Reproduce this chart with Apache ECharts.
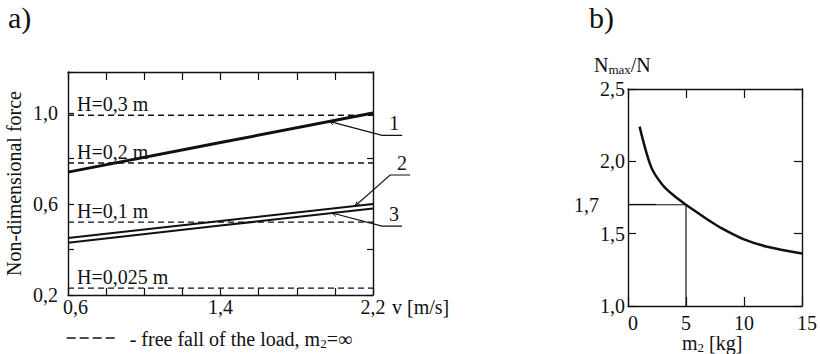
<!DOCTYPE html>
<html>
<head>
<meta charset="utf-8">
<script src="https://cdn.jsdelivr.net/npm/echarts@6/dist/echarts.min.js"></script>
<style>
  html, body { margin: 0; padding: 0; background: #fff; }
  #chart { width: 820px; height: 354px; }
</style>
</head>
<body>
<div id="chart"></div>
<script>
// ---- panel a): impact force against velocity ----
const velocity = [0.6, 1.4, 2.2];                 // v [m/s]
const force1 = [0.74, 0.87, 1.0];
const force2 = [0.45, 0.525, 0.60];
const force3 = [0.43, 0.505, 0.58];
const curveNames = ['1', '2', '3'];
const dropHeights = ['H=0,3 m', 'H=0,2 m', 'H=0,1 m', 'H=0,025 m'];
const freeFallForce = [0.99, 0.78, 0.52, 0.23];   // free fall of the load, m2 = inf
const velocityTickLabels = ['0,6', '1,4', '2,2'];
const forceTickLabels = ['0,2', '0,6', '1,0'];

// ---- panel b): force ratio against mass m2 ----
const mass = [1, 2, 3, 4, 5, 6, 7, 8, 10, 12, 15];                       // m2 [kg]
const ratio = [2.24, 1.96, 1.835, 1.76, 1.70, 1.645, 1.59, 1.54, 1.46, 1.41, 1.363];
const massTickLabels = ['0', '5', '10', '15'];
const ratioTickLabels = ['1,0', '1,5', '2,0', '2,5'];
const markedMass = 5;
const markedRatio = 1.7;

const ink = '#111';
const serif = "'Liberation Serif', 'Times New Roman', serif";
const fmt = v => (Math.round(v * 10) / 10).toFixed(1).replace('.', ',');
const txt = (size) => ({ fontFamily: serif, fontSize: size, fontWeight: 'normal', color: ink });

const chart = echarts.init(document.getElementById('chart'), null, { renderer: 'svg' });

const frameLine = { show: true, onZero: false, lineStyle: { color: ink, width: 1.4 } };
const tick = len => ({ show: true, inside: true, length: len, lineStyle: { color: ink, width: 1.2 } });
const noSplit = { show: false };

function boxAxis(base, extra) {
  return Object.assign({ type: 'value', axisLine: frameLine, splitLine: noSplit }, base, extra);
}

// main text sits at the top of the line, the subscript is pushed down by its padding
const subRich = {
  n: { fontFamily: serif, fontSize: 20, fontWeight: 'normal', color: ink, lineHeight: 18, verticalAlign: 'top' },
  s: { fontFamily: serif, fontSize: 13, fontWeight: 'normal', color: ink, lineHeight: 12, verticalAlign: 'top', padding: [8, 0, 0, 0] }
};

const option = {
  animation: false,
  backgroundColor: '#fff',
  title: [
    { text: 'a)', left: 8, top: 2, padding: 0, textStyle: txt(30) },
    { text: 'b)', left: 589, top: 2, padding: 0, textStyle: txt(30) },
    { text: '{n|N}{s|max}{n|/N}', left: 594, top: 55, padding: 0, textStyle: Object.assign(txt(20), { rich: subRich }) },
    { text: '{n|m}{s|2}{n| [kg]}', left: 682, top: 333, padding: 0, textStyle: Object.assign(txt(20), { rich: subRich }) }
  ],
  legend: {
    left: 66, top: 329, padding: 0,
    itemWidth: 50, itemHeight: 14,
    selectedMode: false,
    data: ['free fall'],
    itemStyle: { opacity: 0 },
    lineStyle: { type: [9, 4], width: 1.4, color: ink },
    formatter: () => '{n|- free fall of the load, m}{s|2}{n|=\u221e}',
    textStyle: Object.assign(txt(20), { padding: [0, 0, 0, 8], rich: subRich })
  },
  grid: [
    { left: 68, top: 72, width: 305, height: 223 },
    { left: 628, top: 89, width: 178, height: 217 }
  ],
  xAxis: [
    boxAxis({ gridIndex: 0, position: 'bottom', min: 0.6, max: 2.2, interval: 0.2 }, {
      axisTick: tick(7),
      axisLabel: Object.assign(txt(20), {
        margin: 2, showMinLabel: true, showMaxLabel: true,
        formatter: v => {
          const s = fmt(v);
          if (!velocityTickLabels.includes(s)) return '';
          return s === velocityTickLabels[0] ? '{first|' + s + '}' : s;
        },
        rich: { first: Object.assign(txt(20), { padding: [0, 0, 0, 15] }) }
      }),
      name: 'v [m/s]', nameLocation: 'end', nameGap: 19,
      nameTextStyle: Object.assign(txt(20), { verticalAlign: 'top', padding: [2, 0, 0, 0] })
    }),
    boxAxis({ gridIndex: 0, position: 'top', min: 0.6, max: 2.2, interval: 0.2 }, {
      axisTick: tick(8), axisLabel: { show: false }
    }),
    boxAxis({ gridIndex: 1, position: 'bottom', min: 0, max: 15, interval: 5 }, {
      axisTick: tick(9),
      axisLabel: Object.assign(txt(20), {
        margin: 8, lineHeight: 18, showMinLabel: true, showMaxLabel: true,
        formatter: v => {
          const s = String(v);
          if (!massTickLabels.includes(s)) return '';
          return (s === massTickLabels[0] || s === massTickLabels[massTickLabels.length - 1]) ? '{edge|' + s + '}' : s;
        },
        rich: { edge: Object.assign(txt(20), { lineHeight: 18, padding: [0, 0, 0, 10] }) }
      })
    }),
    boxAxis({ gridIndex: 1, position: 'top', min: 0, max: 15, interval: 5 }, {
      axisTick: tick(9), axisLabel: { show: false }
    })
  ],
  yAxis: [
    boxAxis({ gridIndex: 0, position: 'left', min: 0.2, max: 1.18, interval: 0.2 }, {
      axisTick: tick(6),
      axisLabel: Object.assign(txt(20), {
        margin: 10, showMinLabel: true, showMaxLabel: true,
        formatter: v => forceTickLabels.includes(fmt(v)) && Math.abs(v - 1.18) > 1e-6 ? fmt(v) : ''
      }),
      name: 'Non-dimensional force', nameLocation: 'middle', nameGap: 44,
      nameTextStyle: txt(20)
    }),
    boxAxis({ gridIndex: 0, position: 'right', min: 0.2, max: 1.18, interval: 0.2 }, {
      axisTick: tick(6), axisLabel: { show: false }
    }),
    boxAxis({ gridIndex: 1, position: 'left', min: 1, max: 2.5, interval: 0.5 }, {
      axisTick: tick(8),
      axisLabel: Object.assign(txt(20), {
        margin: 3, showMinLabel: true, showMaxLabel: true,
        formatter: v => ratioTickLabels.includes(fmt(v)) ? fmt(v) : ''
      })
    }),
    boxAxis({ gridIndex: 1, position: 'right', min: 1, max: 2.5, interval: 0.5 }, {
      axisTick: tick(8), axisLabel: { show: false }
    }),
    // marker axis carrying the single value at m2 = 5 kg
    {
      type: 'value', gridIndex: 1, position: 'left', offset: 28, min: 1, max: 2.5,
      axisLine: { show: false }, splitLine: noSplit,
      axisTick: { show: true, inside: true, length: 28, customValues: [markedRatio], lineStyle: { color: ink, width: 1.2 } },
      axisLabel: Object.assign(txt(20), { margin: 1, customValues: [markedRatio], formatter: v => fmt(v) })
    }
  ],
  series: [
    // dashed free-fall levels
    ...freeFallForce.map(f => ({
      name: 'free fall', type: 'line', xAxisIndex: 0, yAxisIndex: 0,
      symbol: 'none', silent: true, z: 2,
      lineStyle: { color: ink, width: 1.3, type: [6, 4] },
      itemStyle: { color: ink },
      data: [[velocity[0], f], [velocity[velocity.length - 1], f]]
    })),
    {
      name: curveNames[0], type: 'line', xAxisIndex: 0, yAxisIndex: 0, symbol: 'none', silent: true, z: 3,
      lineStyle: { color: ink, width: 3 },
      data: velocity.map((v, i) => [v, force1[i]])
    },
    {
      name: curveNames[1], type: 'line', xAxisIndex: 0, yAxisIndex: 0, symbol: 'none', silent: true, z: 3,
      lineStyle: { color: ink, width: 2 },
      data: velocity.map((v, i) => [v, force2[i]])
    },
    {
      name: curveNames[2], type: 'line', xAxisIndex: 0, yAxisIndex: 0, symbol: 'none', silent: true, z: 3,
      lineStyle: { color: ink, width: 2 },
      data: velocity.map((v, i) => [v, force3[i]])
    },
    // guide from the curve at m2 = 5 kg
    {
      name: 'guide', type: 'line', xAxisIndex: 2, yAxisIndex: 2, symbol: 'none', silent: true, z: 2,
      lineStyle: { color: ink, width: 1.2 },
      data: [[0, markedRatio], [markedMass, markedRatio], [markedMass, 1]]
    },
    {
      name: 'ratio', type: 'line', xAxisIndex: 2, yAxisIndex: 2, symbol: 'none', silent: true, z: 3,
      smooth: 0.3,
      lineStyle: { color: ink, width: 2.5 },
      data: mass.map((m, i) => [m, ratio[i]])
    }
  ]
};

chart.setOption(option);

// ---- annotations placed from data coordinates ----
const toPx = p => chart.convertToPixel({ xAxisIndex: 0, yAxisIndex: 0 }, p);
const graphics = [];

dropHeights.forEach((h, i) => {
  const p = toPx([velocity[0], freeFallForce[i]]);
  graphics.push({
    type: 'text', silent: true, x: p[0] + 9, y: p[1] - 1, z: 10,
    style: { text: h, fontFamily: serif, fontSize: 20, fill: ink, align: 'left', verticalAlign: 'bottom' }
  });
});

// leader lines: anchor on a curve, elbow offset, then a short shelf under the number
const leaders = [
  { name: curveNames[0], anchor: [1.97, 0.963], elbow: [53, 14] },
  { name: curveNames[1], anchor: [2.106, 0.591], elbow: [35, -31] },
  { name: curveNames[2], anchor: [1.985, 0.56], elbow: [50, 13] }
];
leaders.forEach(l => {
  const a = toPx(l.anchor);
  const e = [a[0] + l.elbow[0], a[1] + l.elbow[1]];
  const end = [e[0] + 20, e[1]];
  graphics.push({
    type: 'polyline', silent: true, z: 10,
    shape: { points: [a, e, end] },
    style: { stroke: ink, lineWidth: 1.1, fill: null }
  });
  // small arrow head at the anchor
  const ang = Math.atan2(e[1] - a[1], e[0] - a[0]);
  const hl = 5;
  graphics.push({
    type: 'polyline', silent: true, z: 10,
    shape: { points: [
      [a[0] + hl * Math.cos(ang + 0.45), a[1] + hl * Math.sin(ang + 0.45)],
      a,
      [a[0] + hl * Math.cos(ang - 0.45), a[1] + hl * Math.sin(ang - 0.45)]
    ] },
    style: { stroke: ink, lineWidth: 1, fill: null }
  });
  graphics.push({
    type: 'text', silent: true, z: 10, x: end[0] - 8, y: end[1] - 2,
    style: { text: l.name, fontFamily: serif, fontSize: 20, fill: ink, align: 'center', verticalAlign: 'bottom' }
  });
});

chart.setOption({ graphic: graphics });
</script>
</body>
</html>
